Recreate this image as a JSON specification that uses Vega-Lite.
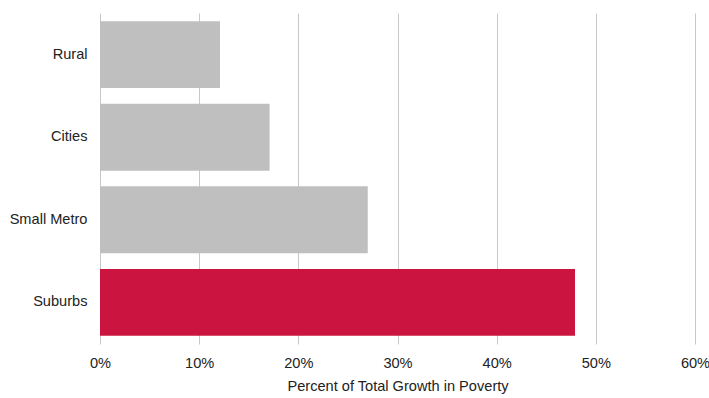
{
  "$schema": "https://vega.github.io/schema/vega-lite/v6.json",
  "width": 595,
  "height": 331,
  "autosize": "none",
  "padding": {"left": 100, "top": 13, "right": 14, "bottom": 54},
  "background": "white",
  "config": {
    "view": {"stroke": null},
    "font": "Liberation Sans"
  },
  "data": {
    "values": [
      {"area": "Rural", "pct": 0.121, "highlight": "no"},
      {"area": "Cities", "pct": 0.171, "highlight": "no"},
      {"area": "Small Metro", "pct": 0.27, "highlight": "no"},
      {"area": "Suburbs", "pct": 0.479, "highlight": "yes"}
    ]
  },
  "mark": {"type": "bar"},
  "encoding": {
    "y": {
      "field": "area",
      "type": "nominal",
      "sort": null,
      "scale": {"paddingInner": 0.19, "paddingOuter": 0.1},
      "axis": {
        "title": null,
        "domain": false,
        "ticks": false,
        "labelPadding": 13,
        "labelFontSize": 14.6,
        "labelColor": "#222222",
        "labelFont": "Liberation Sans"
      }
    },
    "x": {
      "field": "pct",
      "type": "quantitative",
      "scale": {"domain": [0, 0.6], "nice": false},
      "axis": {
        "title": "Percent of Total Growth in Poverty",
        "format": ".0%",
        "values": [0, 0.1, 0.2, 0.3, 0.4, 0.5, 0.6],
        "domain": false,
        "ticks": false,
        "grid": true,
        "gridColor": "#c8c8c8",
        "gridWidth": 1,
        "labelFlush": false,
        "labelPadding": 11,
        "labelFontSize": 14.6,
        "labelColor": "#222222",
        "labelFont": "Liberation Sans",
        "titleFontSize": 14.6,
        "titleFontWeight": "normal",
        "titleColor": "#222222",
        "titleFont": "Liberation Sans",
        "titlePadding": 9
      }
    },
    "color": {
      "field": "highlight",
      "type": "nominal",
      "scale": {"domain": ["no", "yes"], "range": ["#bfbfbf", "#cc1441"]},
      "legend": null
    }
  }
}
